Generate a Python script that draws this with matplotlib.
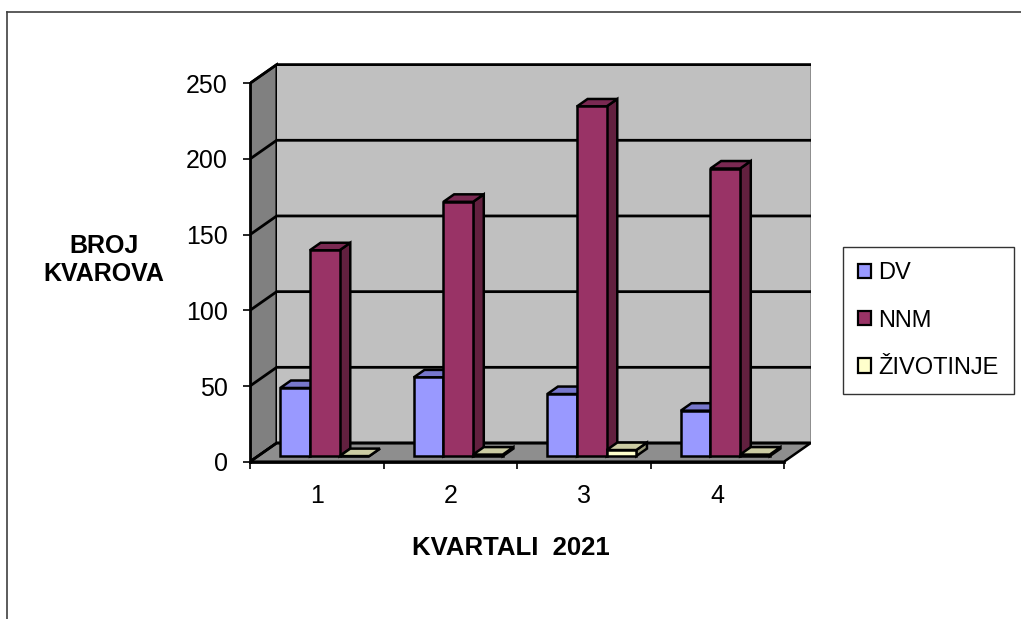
import matplotlib.pyplot as plt
from matplotlib.patches import Polygon, Patch
from matplotlib.lines import Line2D

plt.rcParams['font.family'] = ['Liberation Sans', 'DejaVu Sans']

# data
quarters = ['1', '2', '3', '4']
series = ['DV', 'NNM', 'ŽIVOTINJE']
dv = [45, 52, 41, 30]
nnm = [136, 168, 231, 190]
ziv = [0, 1, 4, 1]
values = [dv, nnm, ziv]
yticks = [0, 50, 100, 150, 200, 250]

# face colours: front, top, side
front = ['#9999FF', '#993366', '#FFFFCC']
top = ['#7777CC', '#7A2952', '#CCCCA3']
side = ['#5C5C99', '#62203F', '#99997A']

# oblique projection of the depth axis (in data units)
DX = 0.2      # categories
DY = 12.35    # value units
ymax = 250
f0 = 0.3      # gap in front of bars (fraction of depth)
bd = 0.4      # bar depth (fraction of depth)
bw = 1 / 4.5  # bar width, gap width 150%

W, H = 1021, 619
fig = plt.figure(figsize=(W / 100, H / 100), dpi=100)
px_x = 133.5   # pixels per category
px_y = 1.5136  # pixels per unit
top_lim = 265
ax = fig.add_axes([250 / W, (H - 461.7) / H, (4 + DX) * px_x / W, top_lim * px_y / H])
ax.set_xlim(0, 4 + DX)
ax.set_ylim(0, top_lim)
ax.patch.set_visible(False)

n = len(quarters)
lw = 1.8

# walls and floor
ax.add_patch(Polygon([(0, 0), (DX, DY), (DX, ymax + DY), (0, ymax)],
                     closed=True, fc='#808080', ec='black', lw=lw, zorder=1))
ax.add_patch(Polygon([(DX, DY), (n + DX, DY), (n + DX, ymax + DY), (DX, ymax + DY)],
                     closed=True, fc='#C0C0C0', ec='none', lw=0, zorder=1))
ax.plot([n + DX, n + DX], [DY, ymax + DY], color='#808080', lw=1.8, zorder=1.5)
ax.add_patch(Polygon([(0, 0), (n, 0), (n + DX, DY), (DX, DY)],
                     closed=True, fc='#8E8E8E', ec='black', lw=lw, zorder=1))

# gridlines on back and side wall
for v in yticks:
    ax.plot([0, DX, n + DX], [v, v + DY, v + DY], color='black', lw=2.0, zorder=2,
            solid_joinstyle='miter')

# bars
for i in range(n):
    for j in range(len(series)):
        v = values[j][i]
        x0 = i + bw * 0.75 + j * bw + f0 * DX
        y0 = f0 * DY
        ddx, ddy = bd * DX, bd * DY
        z = 3 + j * 0.1
        ax.add_patch(Polygon([(x0 + bw, y0), (x0 + bw, y0 + v), (x0 + bw + ddx, y0 + v + ddy),
                              (x0 + bw + ddx, y0 + ddy)], closed=True, fc=side[j], ec='black',
                             lw=lw, zorder=z, joinstyle='miter'))
        ax.add_patch(Polygon([(x0, y0 + v), (x0 + bw, y0 + v), (x0 + bw + ddx, y0 + v + ddy),
                              (x0 + ddx, y0 + v + ddy)], closed=True, fc=top[j], ec='black',
                             lw=lw, zorder=z, joinstyle='miter'))
        ax.add_patch(Polygon([(x0, y0), (x0 + bw, y0), (x0 + bw, y0 + v), (x0, y0 + v)],
                             closed=True, fc=front[j], ec='black', lw=lw, zorder=z,
                             joinstyle='miter'))

# axes
for s in ['top', 'right']:
    ax.spines[s].set_visible(False)
ax.spines['left'].set_bounds(0, ymax)
ax.spines['bottom'].set_bounds(0, n)
ax.spines['left'].set_linewidth(2.0)
ax.spines['bottom'].set_linewidth(2.0)
ax.spines['left'].set_zorder(5)
ax.spines['bottom'].set_zorder(5)
ax.set_yticks(yticks)
ax.set_yticklabels([str(t) for t in yticks], fontsize=18)
ax.tick_params(axis='y', direction='out', length=5, width=1.2, pad=11)
ax.set_xticks(range(n + 1))
ax.set_xticklabels([])
ax.tick_params(axis='x', which='major', direction='out', length=5, width=1.2)
ax.set_xticks([i + 0.5 for i in range(n)], minor=True)
ax.set_xticklabels(quarters, minor=True, fontsize=18)
ax.tick_params(axis='x', which='minor', length=0, pad=16)

fig.text(104 / W, 1 - 260 / H, 'BROJ\nKVAROVA', ha='center', va='center',
         fontsize=18, fontweight='bold', linespacing=1.25)
fig.text(511 / W, 1 - 548 / H, 'KVARTALI  2021', ha='center', va='center',
         fontsize=18.5, fontweight='bold')

handles = [Patch(fc=front[j], ec='black', lw=1.6) for j in range(len(series))]
leg = fig.legend(handles, series, loc='upper left', bbox_to_anchor=(843 / W, 1 - 247 / H),
                 frameon=True, fancybox=False, edgecolor='black', fontsize=17,
                 handlelength=0.55, handleheight=0.55, handletextpad=0.3,
                 labelspacing=1.07, borderpad=0.65, borderaxespad=0)
leg.get_frame().set_linewidth(1.0)

# chart area border (top and left edges)
fig.add_artist(Line2D([7 / W, 1], [1 - 12 / H, 1 - 12 / H], color='#404040', lw=1.2))
fig.add_artist(Line2D([7 / W, 7 / W], [0, 1 - 12 / H], color='#404040', lw=1.2))

fig.savefig('out.png', dpi=100)
